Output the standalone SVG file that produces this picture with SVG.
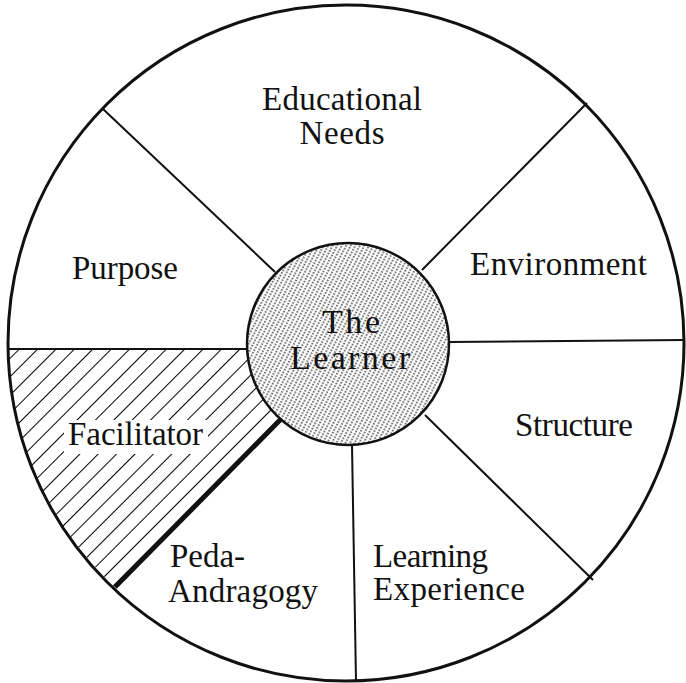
<svg xmlns="http://www.w3.org/2000/svg" width="686" height="683" viewBox="0 0 686 683">
<style>
.lbl{font-family:"Liberation Serif","DejaVu Serif",serif;font-size:33px;fill:#111}
.ctr{font-family:"Liberation Serif","DejaVu Serif",serif;font-size:34px;fill:#111}
.spoke{stroke:#111;stroke-width:2;fill:none}
</style>
<defs>
<pattern id="hatch" patternUnits="userSpaceOnUse" width="13" height="13" patternTransform="rotate(45)">
<line x1="0" y1="0" x2="0" y2="13" stroke="#000" stroke-width="2"/>
</pattern>
<pattern id="dots" patternUnits="userSpaceOnUse" width="4" height="6" patternTransform="rotate(28)">
<line x1="1" y1="0" x2="1" y2="6" stroke="#000" stroke-width="1.2" stroke-dasharray="1.6 1.4"/>
</pattern>
</defs>
<rect width="686" height="683" fill="#fff"/>
<g id="facilitator-region">
<path d="M7,349 L248,349 A101,101 0 0,0 281,419 L115,587 A338,338 0 0,1 7,349 Z" fill="url(#hatch)"/>
<rect x="64" y="420" width="144" height="34" fill="#fff"/>
</g>
<g id="connectors">
<circle cx="346" cy="343" r="338" fill="none" stroke="#111" stroke-width="3"/>
<line class="spoke" x1="103" y1="109" x2="275" y2="272"/>
<line class="spoke" x1="587" y1="103" x2="422" y2="270"/>
<line class="spoke" x1="449" y1="342" x2="684" y2="340"/>
<line class="spoke" x1="425" y1="415" x2="593" y2="580"/>
<line class="spoke" x1="352" y1="445" x2="356" y2="681"/>
<line class="spoke" x1="7" y1="349" x2="248" y2="349"/>
<line x1="281" y1="419" x2="115" y2="587" stroke="#111" stroke-width="5"/>
</g>
<g id="learner">
<circle cx="348" cy="344" r="101" fill="#fff"/>
<circle cx="348" cy="344" r="101" fill="url(#dots)" stroke="#111" stroke-width="2.5"/>
<text class="ctr" x="351" y="333" text-anchor="middle" textLength="58">The</text>
<text class="ctr" x="350" y="369" text-anchor="middle" textLength="120">Learner</text>
</g>
<g id="educational-needs">
<text class="lbl" x="342" y="110" text-anchor="middle" textLength="160">Educational</text>
<text class="lbl" x="342" y="144" text-anchor="middle" textLength="85">Needs</text>
</g>
<g id="purpose"><text class="lbl" x="72" y="279" textLength="106">Purpose</text></g>
<g id="environment"><text class="lbl" x="470" y="275" textLength="177">Environment</text></g>
<g id="structure"><text class="lbl" x="515" y="436" textLength="118">Structure</text></g>
<g id="facilitator"><text class="lbl" x="68" y="445" textLength="135">Facilitator</text></g>
<g id="peda-andragogy">
<text class="lbl" x="170" y="567" textLength="75">Peda-</text>
<text class="lbl" x="168" y="602" textLength="150">Andragogy</text>
</g>
<g id="learning-experience">
<text class="lbl" x="373" y="567" textLength="115">Learning</text>
<text class="lbl" x="373" y="600" textLength="152">Experience</text>
</g>
</svg>
